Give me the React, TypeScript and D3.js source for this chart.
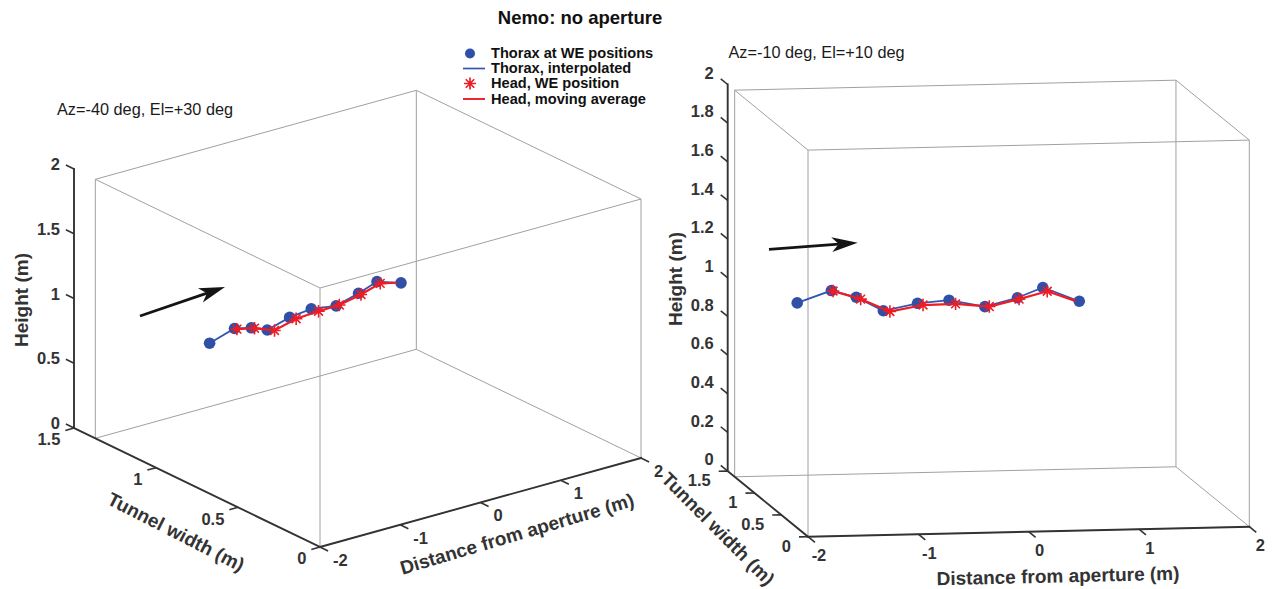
import React from 'react';
import * as d3 from 'd3';

// ---------- data (metres) ----------
const distanceTicks = [-2, -1, 0, 1, 2];
const widthTicks = [0, 0.5, 1, 1.5];
const heightTicksA = [0, 0.5, 1, 1.5, 2];
const heightTicksB = [0, 0.2, 0.4, 0.6, 0.8, 1, 1.2, 1.4, 1.6, 1.8, 2];

const distanceDomain: [number, number] = [-2, 2];
const widthDomain: [number, number] = [0, 1.5];
const widthBoxLimit = 1.37;
const heightDomain: [number, number] = [0, 2];

const thoraxDistance = [-1.70, -1.39, -1.16, -0.90, -0.58, -0.29, 0.04, 0.34, 0.57, 0.91];
const thoraxWidth = [0.82, 0.82, 0.83, 0.86, 0.88, 0.89, 0.90, 0.91, 0.91, 0.93];
const thoraxHeight = [1.02, 1.08, 1.04, 0.96, 0.99, 1.00, 0.96, 1.00, 1.05, 0.97];

const headDistance = [-1.38, -1.12, -0.85, -0.54, -0.24, 0.08, 0.35, 0.61];
const headWidth = [0.81, 0.83, 0.84, 0.86, 0.87, 0.90, 0.90, 0.91];
const headHeight = [1.08, 1.03, 0.96, 0.985, 0.985, 0.96, 0.995, 1.03];

const headAvgDistance = [-1.38, -1.12, -0.85, -0.54, -0.24, 0.08, 0.35, 0.61, 0.88];
const headAvgWidth = [0.81, 0.83, 0.84, 0.86, 0.87, 0.90, 0.90, 0.91, 0.94];
const headAvgHeight = [1.08, 1.03, 0.96, 0.985, 0.985, 0.96, 0.995, 1.03, 0.97];

const legendLabels = ['Thorax at WE positions', 'Thorax, interpolated', 'Head, WE position', 'Head, moving average'];
const titleText = 'Nemo: no aperture';

// ---------- styles ----------
const FONT = '"Liberation Sans", Arial, Helvetica, sans-serif';
const C = {
  thorax: '#2f50a6',
  thoraxLine: '#3556ae',
  head: '#ee1c25',
  axis: '#333333',
  box: '#a0a0a0',
  text: '#333333',
  arrow: '#141414',
};

type P = [number, number];

interface ViewSpec {
  origin: P; xVec: P; yVec: P; zVec: P;
  heightTicks: number[];
  caption: string; captionAt: P;
  zLab: P; yLab: P; xLab: P; xAnchor: 'start' | 'middle';
  heightLabelAt: P;
  widthLabel: { at: P; angle: number };
  distLabel: { at: P; angle: number };
  arrow: [P, P];
}

const views: ViewSpec[] = [
  {
    origin: [320, 547], xVec: [321, -89], yVec: [-246, -119], zVec: [0, -259],
    heightTicks: heightTicksA,
    caption: 'Az=-40 deg, El=+30 deg', captionAt: [57, 115],
    zLab: [-6, -1], yLab: [-5, 9], xLab: [5, 9], xAnchor: 'start',
    heightLabelAt: [21, 300],
    widthLabel: { at: [176, 532], angle: 27 },
    distLabel: { at: [517, 534], angle: -16.5 },
    arrow: [[140, 316], [225, 287]],
  },
  {
    origin: [808, 536.7], xVec: [441.3, -10], yVec: [-80.3, -65.6], zVec: [0, -386.6],
    heightTicks: heightTicksB,
    caption: 'Az=-10 deg, El=+10 deg', captionAt: [728.5, 58],
    zLab: [-7, -6], yLab: [-8, 9], xLab: [4, 13], xAnchor: 'middle',
    heightLabelAt: [675, 279],
    widthLabel: { at: [718, 529], angle: 45 },
    distLabel: { at: [1058, 576], angle: -1.3 },
    arrow: [[769, 249.3], [857.7, 242.7]],
  },
];

const fmt = (v: number) => String(+v.toFixed(1));

const asteriskPath = (r: number) =>
  [0, 45, 90, 135]
    .map((a) => {
      const t = (a * Math.PI) / 180;
      const dx = r * Math.cos(t), dy = r * Math.sin(t);
      return `M${-dx},${-dy}L${dx},${dy}`;
    })
    .join('');

function Arrow({ from, to }: { from: P; to: P }) {
  const dx = to[0] - from[0], dy = to[1] - from[1];
  const l = Math.hypot(dx, dy);
  const u: P = [dx / l, dy / l];
  const n: P = [-u[1], u[0]];
  const L = 26, W = 7.5, N = 19;
  const back: P = [to[0] - L * u[0], to[1] - L * u[1]];
  const notch: P = [to[0] - N * u[0], to[1] - N * u[1]];
  const pts: P[] = [to, [back[0] + W * n[0], back[1] + W * n[1]], notch, [back[0] - W * n[0], back[1] - W * n[1]]];
  return (
    <g>
      <line x1={from[0]} y1={from[1]} x2={notch[0]} y2={notch[1]} stroke={C.arrow} strokeWidth={2.7} />
      <polygon points={pts.map((p) => p.join(',')).join(' ')} fill={C.arrow} />
    </g>
  );
}

function Panel({ v }: { v: ViewSpec }) {
  const sx = d3.scaleLinear().domain(distanceDomain).range([0, 1]);
  const sy = d3.scaleLinear().domain(widthDomain).range([0, 1]);
  const sz = d3.scaleLinear().domain(heightDomain).range([0, 1]);
  const proj = (x: number, y: number, z: number): P => {
    const a = sx(x), b = sy(y), c = sz(z);
    return [
      v.origin[0] + a * v.xVec[0] + b * v.yVec[0] + c * v.zVec[0],
      v.origin[1] + a * v.xVec[1] + b * v.yVec[1] + c * v.zVec[1],
    ];
  };
  const unit = (p: P): P => {
    const l = Math.hypot(p[0], p[1]);
    return [p[0] / l, p[1] / l];
  };
  const TL = 9;
  const xTickDir = unit([-v.yVec[0], -v.yVec[1]]);
  const yTickDir = unit([-v.xVec[0], -v.xVec[1]]);
  const zTickDir = unit(v.yVec);

  const [x0, x1] = distanceDomain;
  const [z0, z1] = heightDomain;
  const ys = [0, widthBoxLimit];
  const edges: [P, P][] = [];
  for (const y of ys) for (const z of [z0, z1]) edges.push([proj(x0, y, z), proj(x1, y, z)]);
  for (const x of [x0, x1]) for (const z of [z0, z1]) edges.push([proj(x, 0, z), proj(x, widthBoxLimit, z)]);
  for (const x of [x0, x1]) for (const y of ys) edges.push([proj(x, y, z0), proj(x, y, z1)]);

  const wMax = widthDomain[1];
  const axisLines: [P, P][] = [
    [proj(x0, 0, z0), proj(x1, 0, z0)],
    [proj(x0, 0, z0), proj(x0, wMax, z0)],
    [proj(x0, wMax, z0), proj(x0, wMax, z1)],
  ];

  const line = d3.line<P>();
  const thoraxPts = thoraxDistance.map((d, i) => proj(d, thoraxWidth[i], thoraxHeight[i]));
  const headPts = headDistance.map((d, i) => proj(d, headWidth[i], headHeight[i]));
  const headAvgPts = headAvgDistance.map((d, i) => proj(d, headAvgWidth[i], headAvgHeight[i]));

  const tick = (p: P, dir: P) => ({ p, e: [p[0] + TL * dir[0], p[1] + TL * dir[1]] as P });

  const xT = distanceTicks.map((t) => ({ t, ...tick(proj(t, 0, z0), xTickDir) }));
  const yT = widthTicks.map((t) => ({ t, ...tick(proj(x0, t, z0), yTickDir) }));
  const zT = v.heightTicks.map((t) => ({ t, ...tick(proj(x0, wMax, t), zTickDir) }));

  const tickFont = { fontFamily: FONT, fontSize: 16.5, fontWeight: 700, fill: C.text } as const;
  const labFont = { fontFamily: FONT, fontSize: 19, fontWeight: 700, fill: C.text } as const;

  return (
    <g>
      {edges.map(([a, b], i) => (
        <line key={'e' + i} x1={a[0]} y1={a[1]} x2={b[0]} y2={b[1]} stroke={C.box} strokeWidth={1} />
      ))}
      {axisLines.map(([a, b], i) => (
        <line key={'a' + i} x1={a[0]} y1={a[1]} x2={b[0]} y2={b[1]} stroke={C.axis} strokeWidth={1.9} strokeLinecap="square" />
      ))}
      {[...xT, ...yT, ...zT].map((k, i) => (
        <line key={'t' + i} x1={k.p[0]} y1={k.p[1]} x2={k.e[0]} y2={k.e[1]} stroke={C.axis} strokeWidth={1.6} />
      ))}
      {xT.map((k, i) => (
        <text key={'xl' + i} x={k.e[0] + v.xLab[0]} y={k.e[1] + v.xLab[1]} textAnchor={v.xAnchor} dominantBaseline="central" {...tickFont}>
          {fmt(k.t)}
        </text>
      ))}
      {yT.map((k, i) => (
        <text key={'yl' + i} x={k.e[0] + v.yLab[0]} y={k.e[1] + v.yLab[1]} textAnchor="end" dominantBaseline="central" {...tickFont}>
          {fmt(k.t)}
        </text>
      ))}
      {zT.map((k, i) => (
        <text key={'zl' + i} x={k.e[0] + v.zLab[0]} y={k.e[1] + v.zLab[1]} textAnchor="end" dominantBaseline="central" {...tickFont}>
          {fmt(k.t)}
        </text>
      ))}
      <text transform={`translate(${v.heightLabelAt[0]},${v.heightLabelAt[1]}) rotate(-90)`} textAnchor="middle" dominantBaseline="central" {...labFont}>
        Height (m)
      </text>
      <text transform={`translate(${v.widthLabel.at[0]},${v.widthLabel.at[1]}) rotate(${v.widthLabel.angle})`} textAnchor="middle" dominantBaseline="central" {...labFont}>
        Tunnel width (m)
      </text>
      <text transform={`translate(${v.distLabel.at[0]},${v.distLabel.at[1]}) rotate(${v.distLabel.angle})`} textAnchor="middle" dominantBaseline="central" {...labFont}>
        Distance from aperture (m)
      </text>
      <text x={v.captionAt[0]} y={v.captionAt[1]} fontFamily={FONT} fontSize={16.3} fill="#1a1a1a">
        {v.caption}
      </text>

      {/* data */}
      <path d={line(thoraxPts) || ''} fill="none" stroke={C.thoraxLine} strokeWidth={1.8} />
      {thoraxPts.map((p, i) => (
        <circle key={'d' + i} cx={p[0]} cy={p[1]} r={5.8} fill={C.thorax} />
      ))}
      <path d={line(headAvgPts) || ''} fill="none" stroke={C.head} strokeWidth={2.2} />
      {headPts.map((p, i) => (
        <path key={'h' + i} transform={`translate(${p[0]},${p[1]})`} d={asteriskPath(6.2)} stroke={C.head} strokeWidth={1.6} fill="none" />
      ))}
      <Arrow from={v.arrow[0]} to={v.arrow[1]} />
    </g>
  );
}

function Legend() {
  const x = 470, x1 = 463, x2 = 485, tx = 491;
  const rows = [53.5, 68.5, 83.5, 99];
  return (
    <g>
      <circle cx={x} cy={rows[0]} r={5} fill={C.thorax} />
      <line x1={x1} x2={x2} y1={rows[1]} y2={rows[1]} stroke={C.thoraxLine} strokeWidth={1.7} />
      <path transform={`translate(${x},${rows[2]})`} d={asteriskPath(6)} stroke={C.head} strokeWidth={1.7} fill="none" />
      <line x1={x1} x2={x2} y1={rows[3]} y2={rows[3]} stroke={C.head} strokeWidth={1.9} />
      {legendLabels.map((s, i) => (
        <text key={s} x={tx} y={rows[i] + 4.8} fontFamily={FONT} fontSize={14.6} fontWeight={700} fill="#111">
          {s}
        </text>
      ))}
    </g>
  );
}

export default function App() {
  return (
    <svg width={1274} height={589} viewBox="0 0 1274 589" style={{ position: 'absolute', left: 0, top: 0, background: '#fff' }}>
      <rect width={1274} height={589} fill="#fff" />
      {views.map((v, i) => (
        <Panel key={i} v={v} />
      ))}
      <Legend />
      <text x={580} y={23.5} textAnchor="middle" fontFamily={FONT} fontSize={18.5} fontWeight={700} fill="#111">
        {titleText}
      </text>
    </svg>
  );
}
